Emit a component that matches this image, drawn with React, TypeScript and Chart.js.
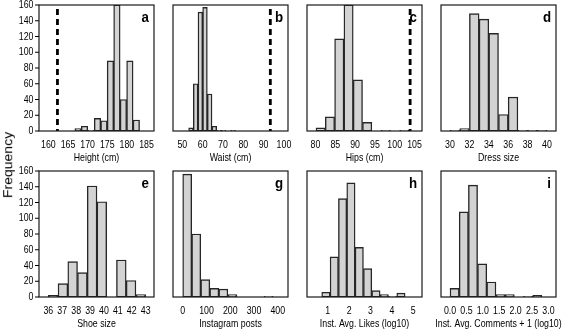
import React, { useEffect, useRef } from 'react';
import { Chart, registerables } from 'chart.js';

Chart.register(...registerables);

const FAMILY = "'Liberation Sans', Arial, sans-serif";
const TICK_FONT = `11px ${FAMILY}`;
const TITLE_FONT = `11px ${FAMILY}`;
const LETTER_FONT = `bold 14px ${FAMILY}`;

// a: Height (cm)
const heightCenters = [167.55, 169.2, 170.85, 172.5, 174.15, 175.8, 177.45, 179.1, 180.75, 182.4];
const heightCounts = [3, 6, 1, 16, 13, 89, 160, 40, 89, 14];
const heightTicks = [160, 165, 170, 175, 180, 185];
const heightLimit = 162.3;

// b: Waist (cm)
const waistCenters = [54.25, 56.55, 58.85, 61.15, 63.45, 65.75, 68.05, 70.35, 72.65, 74.95];
const waistCounts = [4, 60, 151, 157, 47, 6, 1, 1, 0, 1];
const waistTicks = [50, 60, 70, 80, 90, 100];
const waistLimit = 93.3;

// c: Hips (cm)
const hipsCenters = [81.3, 83.65, 86.0, 88.35, 90.7, 93.05, 95.4, 97.75, 100.1, 102.45];
const hipsCounts = [4, 18, 117, 160, 65, 11, 0, 1, 0, 1];
const hipsTicks = [80, 85, 90, 95, 100, 105];
const hipsLimit = 103.9;

// d: Dress size
const dressCenters = [30.5, 31.5, 32.5, 33.5, 34.5, 35.5, 36.5, 37.5, 38.5, 39.5];
const dressCounts = [1, 3, 149, 142, 124, 21, 43, 1, 1, 1];
const dressTicks = [30, 32, 34, 36, 38, 40];

// e: Shoe size
const shoeCenters = [36.35, 37.05, 37.75, 38.45, 39.15, 39.85, 40.55, 41.25, 41.95, 42.65];
const shoeCounts = [2, 17, 45, 31, 141, 121, 0, 47, 21, 3];
const shoeTicks = [36, 37, 38, 39, 40, 41, 42, 43];

// g: Instagram posts
const postsCenters = [19, 57, 95, 133, 171, 209, 247, 285, 323, 361];
const postsCounts = [156, 80, 22, 11, 10, 3, 0, 0, 0, 1];
const postsTicks = [0, 100, 200, 300, 400];

// h: Inst. Avg. Likes (log10)
const likesCenters = [0.915, 1.305, 1.695, 2.085, 2.475, 2.865, 3.255, 3.645, 4.035, 4.425];
const likesCounts = [6, 51, 125, 145, 63, 36, 8, 3, 1, 5];
const likesTicks = [1, 2, 3, 4, 5];

// i: Inst. Avg. Comments + 1 (log10)
const commentsCenters = [0.14, 0.42, 0.7, 0.98, 1.26, 1.54, 1.82, 2.1, 2.38, 2.66];
const commentsCounts = [11, 108, 142, 42, 19, 3, 3, 0, 1, 2];
const commentsTicks = [0, 0.5, 1, 1.5, 2, 2.5, 3];

const yTicks = [0, 20, 40, 60, 80, 100, 120, 140, 160];

type PanelDef = {
  letter: string;
  title: string;
  centers: number[];
  counts: number[];
  ticks: number[];
  min: number;
  max: number;
  dash?: number;
  row: number;
  col: number;
  decimals: number;
};

const panels: PanelDef[] = [
  { letter: 'a', title: 'Height (cm)', centers: heightCenters, counts: heightCounts, ticks: heightTicks, min: 157.6, max: 186.9, dash: heightLimit, row: 0, col: 0, decimals: 0 },
  { letter: 'b', title: 'Waist (cm)', centers: waistCenters, counts: waistCounts, ticks: waistTicks, min: 45.4, max: 102, dash: waistLimit, row: 0, col: 1, decimals: 0 },
  { letter: 'c', title: 'Hips (cm)', centers: hipsCenters, counts: hipsCounts, ticks: hipsTicks, min: 77.85, max: 106.9, dash: hipsLimit, row: 0, col: 2, decimals: 0 },
  { letter: 'd', title: 'Dress size', centers: dressCenters, counts: dressCounts, ticks: dressTicks, min: 29.07, max: 40.93, row: 0, col: 3, decimals: 0 },
  { letter: 'e', title: 'Shoe size', centers: shoeCenters, counts: shoeCounts, ticks: shoeTicks, min: 35.33, max: 43.6, row: 1, col: 0, decimals: 0 },
  { letter: 'g', title: 'Instagram posts', centers: postsCenters, counts: postsCounts, ticks: postsTicks, min: -40.8, max: 443, row: 1, col: 1, decimals: 0 },
  { letter: 'h', title: 'Inst. Avg. Likes (log10)', centers: likesCenters, counts: likesCounts, ticks: likesTicks, min: 0.03, max: 5.41, row: 1, col: 2, decimals: 0 },
  { letter: 'i', title: 'Inst. Avg. Comments + 1 (log10)', centers: commentsCenters, counts: commentsCounts, ticks: commentsTicks, min: -0.275, max: 3.23, row: 1, col: 3, decimals: 1 },
];

const COLS = [39, 173, 307, 441];
const ROWS = [5, 171];
const BOX_W = 115;
const BOX_H = 126;
const T = 10;
const B = 35;

function drawText(
  ctx: CanvasRenderingContext2D,
  text: string,
  px: number,
  py: number,
  font: string,
  align: CanvasTextAlign,
  sx: number,
  baseline: CanvasTextBaseline = 'middle'
) {
  ctx.save();
  ctx.translate(px, py);
  ctx.scale(sx, 1);
  ctx.font = font;
  ctx.textAlign = align;
  ctx.textBaseline = baseline;
  ctx.fillText(text, 0, 0);
  ctx.restore();
}

const decoPlugin = {
  id: 'deco',
  afterDatasetsDraw(chart: any, _args: any, o: any) {
    const { ctx, chartArea, scales } = chart;
    const { left, top, right, bottom } = chartArea;
    const xs = scales.x;
    const ys = scales.y;
    ctx.save();
    ctx.strokeStyle = '#1a1a1a';
    ctx.lineWidth = 1.2;
    ctx.strokeRect(left, top, right - left, bottom - top);
    ctx.fillStyle = '#000';
    (o.xTicks as number[]).forEach((v) => {
      drawText(ctx, v.toFixed(o.decimals), xs.getPixelForValue(v), bottom + 13.5, TICK_FONT, 'center', 0.8);
    });
    drawText(ctx, o.title, (left + right) / 2, bottom + 27, TITLE_FONT, 'center', 0.8);
    if (o.showY) {
      ctx.lineWidth = 1;
      ctx.strokeStyle = '#000';
      (o.yTicks as number[]).forEach((v) => {
        const py = ys.getPixelForValue(v);
        ctx.beginPath();
        ctx.moveTo(left - 4, py);
        ctx.lineTo(left, py);
        ctx.stroke();
        drawText(ctx, String(v), left - 5.5, py, TICK_FONT, 'right', 0.8);
      });
    }
    drawText(ctx, o.letter, right - 5, top + 16.5, LETTER_FONT, 'right', 0.95, 'alphabetic');
    ctx.restore();
  },
};

function Panel({ p }: { p: PanelDef }) {
  const ref = useRef<HTMLCanvasElement>(null);
  const showY = p.col === 0;
  const L = showY ? 39 : 22;
  const R = p.col === 3 ? 12 : 22;
  const w = BOX_W + L + R;
  const h = BOX_H + T + B;
  const left = COLS[p.col] - L;
  const top = ROWS[p.row] - T;

  useEffect(() => {
    if (!ref.current) return;
    const datasets: any[] = [
      {
        type: 'bar',
        data: p.centers.map((c, i) => ({ x: c, y: p.counts[i] })),
        backgroundColor: '#d3d3d3',
        borderColor: '#262626',
        borderWidth: 1.4,
        borderSkipped: false,
        barThickness: 'flex',
        barPercentage: 1,
        categoryPercentage: 1,
        clip: 0,
        order: 2,
      },
    ];
    if (p.dash !== undefined) {
      datasets.push({
        type: 'line',
        data: [
          { x: p.dash, y: -5 },
          { x: p.dash, y: 170 },
        ],
        borderColor: '#000',
        borderWidth: 2.8,
        borderDash: [6, 4],
        pointRadius: 0,
        clip: 0,
        order: 1,
      });
    }
    const chart = new Chart(ref.current, {
      type: 'bar',
      data: { datasets },
      plugins: [decoPlugin],
      options: {
        animation: false,
        responsive: false,
        maintainAspectRatio: false,
        events: [],
        layout: { padding: { top: T, right: R, left: L, bottom: B } },
        plugins: {
          legend: { display: false },
          tooltip: { enabled: false },
          deco: {
            letter: p.letter,
            title: p.title,
            xTicks: p.ticks,
            yTicks,
            decimals: p.decimals,
            showY,
          },
        } as any,
        scales: {
          x: {
            type: 'linear',
            display: false,
            min: p.min,
            max: p.max,
            offset: false,
          },
          y: {
            type: 'linear',
            display: false,
            min: 0,
            max: 160,
          },
        },
      } as any,
    });
    return () => chart.destroy();
  }, []);

  return (
    <canvas
      ref={ref}
      width={w}
      height={h}
      style={{ position: 'absolute', left, top, width: w, height: h }}
    />
  );
}

export default function App() {
  return (
    <div
      style={{
        position: 'absolute',
        left: 0,
        top: 0,
        width: 568,
        height: 331,
        overflow: 'hidden',
        background: '#fff',
      }}
    >
      {panels.map((p) => (
        <Panel key={p.letter} p={p} />
      ))}
      <div
        style={{
          position: 'absolute',
          left: 8,
          top: 165,
          transform: 'translate(-50%, -50%) rotate(-90deg) scale(1, 0.85)',
          fontFamily: FAMILY,
          fontSize: 14,
          whiteSpace: 'nowrap',
          color: '#000',
          lineHeight: 1,
        }}
      >
        Frequency
      </div>
    </div>
  );
}
